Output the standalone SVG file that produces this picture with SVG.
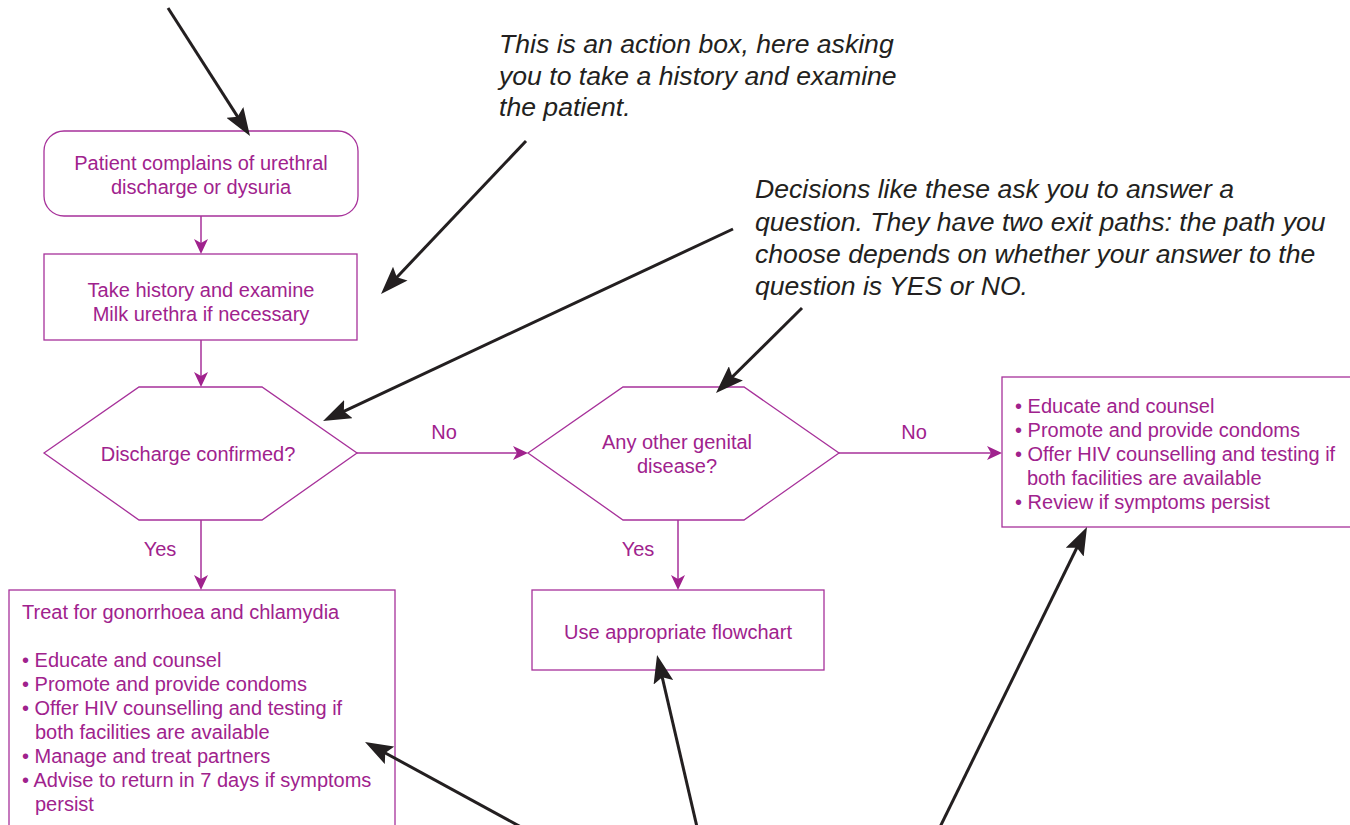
<svg xmlns="http://www.w3.org/2000/svg" width="1350" height="825" viewBox="0 0 1350 825">
<defs>
<style>
.box{fill:#fff;stroke:#a7319a;stroke-width:1.3}
.t{font-family:"Liberation Sans",Arial,Helvetica,sans-serif;font-size:20px;fill:#a0228d}
.c{text-anchor:middle}
.note{font-family:"Liberation Sans",Arial,Helvetica,sans-serif;font-size:26.6px;font-style:italic;fill:#231f20}
.mc{stroke:#a7319a;stroke-width:1.5;fill:none;marker-end:url(#mg)}
.bk{stroke:#231f20;stroke-width:3;fill:none;marker-end:url(#bk)}
</style>
<marker id="mg" viewBox="0 0 15 14" refX="12" refY="7" markerWidth="15" markerHeight="14" markerUnits="userSpaceOnUse" orient="auto">
<path d="M0,0 L15,7 L0,14 L4,7 z" fill="#a0228d"/>
</marker>
<marker id="bk" viewBox="0 0 28 20" refX="18" refY="10" markerWidth="28" markerHeight="20" markerUnits="userSpaceOnUse" orient="auto">
<path d="M0,0 L28,10 L0,20 L5,10 z" fill="#231f20"/>
</marker>
</defs>
<rect width="1350" height="825" fill="#fff"/>

<g id="connectors">
<line class="mc" x1="201" y1="216" x2="201" y2="251"/>
<line class="mc" x1="201" y1="340" x2="201" y2="384"/>
<line class="mc" x1="201" y1="520" x2="201" y2="587"/>
<line class="mc" x1="357" y1="453" x2="525" y2="453"/>
<line class="mc" x1="678" y1="520" x2="678" y2="587"/>
<line class="mc" x1="839" y1="453" x2="999" y2="453"/>
</g>

<g id="start">
<rect class="box" x="44" y="131" width="314" height="85" rx="20"/>
<text class="t c" x="201" y="170">Patient complains of urethral</text>
<text class="t c" x="201" y="194">discharge or dysuria</text>
</g>

<g id="history">
<rect class="box" x="44" y="254" width="313" height="86"/>
<text class="t c" x="201" y="297">Take history and examine</text>
<text class="t c" x="201" y="321">Milk urethra if necessary</text>
</g>

<g id="decision1">
<polygon class="box" points="44,453 139,387 262,387 357,453 262,520 139,520"/>
<text class="t c" x="198" y="461">Discharge confirmed?</text>
</g>

<g id="decision2">
<polygon class="box" points="528,453 623,387 744,387 839,453 744,520 623,520"/>
<text class="t c" x="677" y="449">Any other genital</text>
<text class="t c" x="677" y="473">disease?</text>
</g>

<g id="labels">
<text class="t c" x="444" y="439">No</text>
<text class="t c" x="914" y="439">No</text>
<text class="t c" x="160" y="556">Yes</text>
<text class="t c" x="638" y="556">Yes</text>
</g>

<g id="treat">
<rect class="box" x="9" y="590" width="386" height="260"/>
<text class="t" x="22" y="619">Treat for gonorrhoea and chlamydia</text>
<text class="t" x="22" y="667">• Educate and counsel</text>
<text class="t" x="22" y="691">• Promote and provide condoms</text>
<text class="t" x="22" y="715">• Offer HIV counselling and testing if</text>
<text class="t" x="35" y="739">both facilities are available</text>
<text class="t" x="22" y="763">• Manage and treat partners</text>
<text class="t" x="22" y="787">• Advise to return in 7 days if symptoms</text>
<text class="t" x="35" y="811">persist</text>
</g>

<g id="flowchart">
<rect class="box" x="532" y="590" width="292" height="80"/>
<text class="t c" x="678" y="639">Use appropriate flowchart</text>
</g>

<g id="educate">
<rect class="box" x="1002" y="377" width="360" height="150"/>
<text class="t" x="1015" y="413">• Educate and counsel</text>
<text class="t" x="1015" y="437">• Promote and provide condoms</text>
<text class="t" x="1015" y="461">• Offer HIV counselling and testing if</text>
<text class="t" x="1027" y="485">both facilities are available</text>
<text class="t" x="1015" y="509">• Review if symptoms persist</text>
</g>

<g id="note-action">
<text class="note" x="499" y="53">This is an action box, here asking</text>
<text class="note" x="499" y="85">you to take a history and examine</text>
<text class="note" x="499" y="116">the patient.</text>
</g>

<g id="note-decision">
<text class="note" x="755" y="198">Decisions like these ask you to answer a</text>
<text class="note" x="755" y="231">question. They have two exit paths: the path you</text>
<text class="note" x="755" y="263">choose depends on whether your answer to the</text>
<text class="note" x="755" y="295">question is YES or NO.</text>
</g>

<g id="pointers">
<line class="bk" x1="168" y1="8" x2="244.6" y2="127.6"/>
<line class="bk" x1="526" y1="141" x2="387.9" y2="286.7"/>
<line class="bk" x1="733" y1="229" x2="332.1" y2="416.8"/>
<line class="bk" x1="802" y1="308" x2="723.1" y2="386"/>
<line class="bk" x1="521" y1="827" x2="373.8" y2="746.7"/>
<line class="bk" x1="697" y1="827" x2="659.3" y2="664.7"/>
<line class="bk" x1="940" y1="827" x2="1082.6" y2="536"/>
</g>
</svg>
